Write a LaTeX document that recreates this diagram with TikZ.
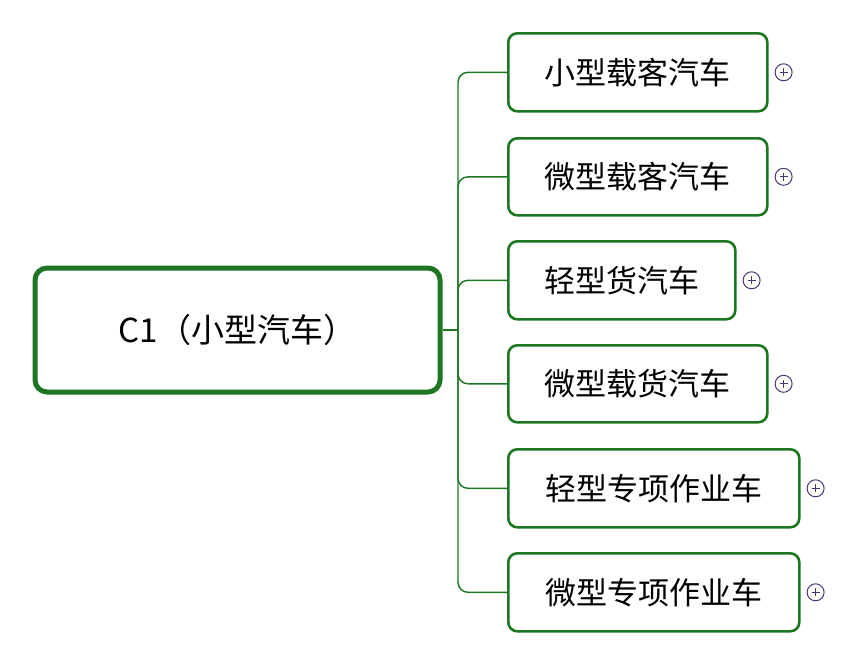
\documentclass[tikz,border=0pt]{standalone}
\usepackage{fontspec}
\usetikzlibrary{positioning}
\newfontfamily\cjk{Noto Sans CJK SC}
\definecolor{mapgreen}{RGB}{28,118,34}
\definecolor{plusblue}{RGB}{60,60,110}
\tikzset{every picture/.style={line width=0.75pt}}
\tikzset{
  rootbox/.style={draw=mapgreen,line width=5pt,rounded corners=12pt,fill=white,font=\cjk\fontsize{33}{36}\selectfont},
  leafbox/.style={draw=mapgreen,line width=2.6pt,rounded corners=9pt,fill=white,anchor=north west,font=\cjk\fontsize{31}{34}\selectfont},
  link/.style={draw=mapgreen,line width=1.4pt,rounded corners=10pt},
  plusmark/.style={draw=plusblue,line width=1pt,circle,minimum size=17pt,inner sep=0pt}
}
\begin{document}
\begin{tikzpicture}[x=1pt,y=1pt,yscale=-1,xscale=1]
\useasboundingbox (0,0) rectangle (854,664);

% Root
\node [rootbox,minimum width=405pt,minimum height=124pt] (root) at (237.5,330) {C1（小型汽车）};

% Branches
\coordinate (hub) at (458,330);
\node [leafbox,minimum width=259pt,minimum height=78pt] (b1) at (507,32) {小型载客汽车};
\node [leafbox,minimum width=259pt,minimum height=77pt] (b2) at (507,137) {微型载客汽车};
\node [leafbox,minimum width=227pt,minimum height=78pt] (b3) at (507,240) {轻型货汽车};
\node [leafbox,minimum width=259pt,minimum height=77pt] (b4) at (507,344) {微型载货汽车};
\node [leafbox,minimum width=291pt,minimum height=78pt] (b5) at (507,448) {轻型专项作业车};
\node [leafbox,minimum width=291pt,minimum height=78pt] (b6) at (507,552) {微型专项作业车};

% Links
\draw [link] (root.east) -- (hub);
\foreach \b in {b1,b2,b3,b4,b5,b6}
  \draw [link] (hub) |- (\b.west);

% Plus marks
\foreach \b in {b1,b2,b3,b4,b5,b6} {
  \node [plusmark,right=6pt of \b.east] (p\b) {};
  \draw [plusblue,line width=1pt] ([xshift=-4pt]p\b.center) -- ([xshift=4pt]p\b.center)
        ([yshift=-4pt]p\b.center) -- ([yshift=4pt]p\b.center);
}

\end{tikzpicture}
\end{document}
